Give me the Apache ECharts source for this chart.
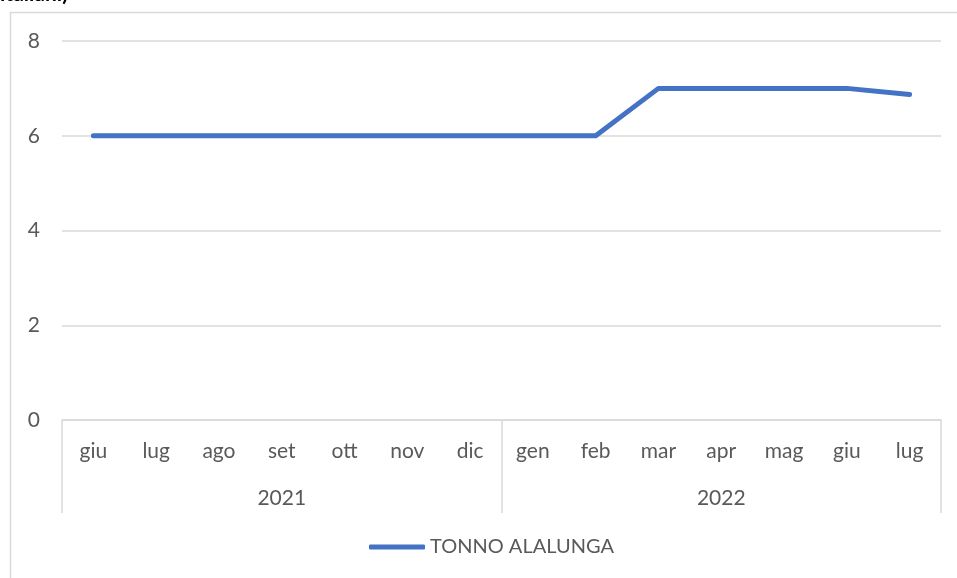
<!DOCTYPE html>
<html>
<head>
<meta charset="utf-8">
<script src="https://cdn.jsdelivr.net/npm/echarts@6/dist/echarts.min.js"></script>
<style>
  html, body { margin: 0; padding: 0; background: #fff; }
  #chart { width: 957px; height: 578px; }
</style>
</head>
<body>
<div id="chart"></div>
<script>
// mesi e anni (asse a due livelli)
const months = ['giu', 'lug', 'ago', 'set', 'ott', 'nov', 'dic', 'gen', 'feb', 'mar', 'apr', 'mag', 'giu', 'lug'];
const years = ['2021', '2022'];
const tonnoAlalunga = [6, 6, 6, 6, 6, 6, 6, 6, 6, 7, 7, 7, 7, 6.87];
const yTicks = [0, 2, 4, 6, 8];

const font = 'Lato, "Open Sans", sans-serif';
const chart = echarts.init(document.getElementById('chart'));

const option = {
  backgroundColor: '#fff',
  animation: false,
  graphic: [
    {
      type: 'rect',
      shape: { x: 10.5, y: 12.5, width: 960, height: 600 },
      style: { fill: 'none', stroke: '#d9d9d9', lineWidth: 1.5 },
      z: -1
    },
    {
      type: 'text',
      left: 0,
      top: -16,
      style: { text: 'italiani)', font: 'bold 21px ' + font, fill: '#000' }
    }
  ],
  grid: { left: 62, right: 16, top: 41, bottom: 158 },
  legend: {
    bottom: 16,
    left: 364,
    data: [{ name: 'TONNO ALALUNGA', icon: 'roundRect' }],
    itemWidth: 56,
    itemHeight: 5,
    itemGap: 3,
    textStyle: { color: '#595959', fontSize: 20, fontFamily: font }
  },
  xAxis: [
    {
      type: 'category',
      data: months,
      position: 'bottom',
      axisLine: { lineStyle: { color: '#d9d9d9', width: 1.5 } },
      axisTick: { show: false },
      axisLabel: { color: '#595959', fontSize: 21, fontFamily: font, margin: 21 }
    },
    {
      type: 'category',
      data: years,
      position: 'bottom',
      axisLine: { show: false },
      axisTick: {
        show: true,
        length: 93,
        lineStyle: { color: '#d9d9d9', width: 1.5 }
      },
      axisLabel: { color: '#595959', fontSize: 21, fontFamily: font, margin: 68 }
    }
  ],
  yAxis: {
    type: 'value',
    min: yTicks[0],
    max: yTicks[yTicks.length - 1],
    interval: 2,
    axisLine: { show: false },
    axisTick: { show: false },
    axisLabel: { color: '#595959', fontSize: 21, fontFamily: font, margin: 22 },
    splitLine: { lineStyle: { color: '#d9d9d9', width: 1.5 } }
  },
  series: [
    {
      name: 'TONNO ALALUNGA',
      type: 'line',
      data: tonnoAlalunga,
      xAxisIndex: 0,
      symbol: 'none',
      lineStyle: { color: '#4472C4', width: 5, cap: 'round', join: 'round' },
      itemStyle: { color: '#4472C4' }
    }
  ]
};

chart.setOption(option);
</script>
</body>
</html>
